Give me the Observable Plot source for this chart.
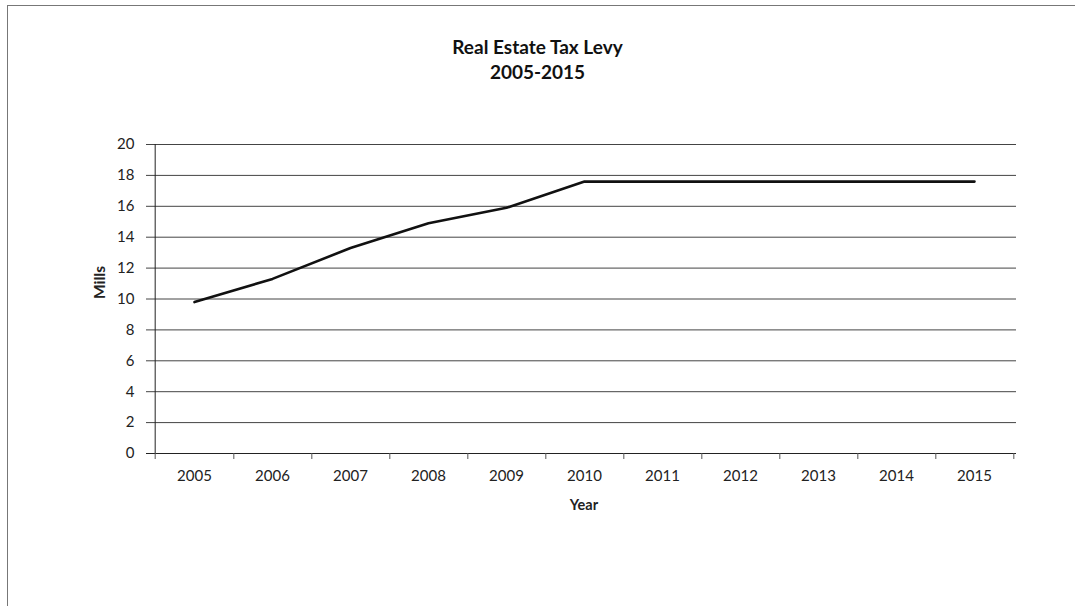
<!DOCTYPE html>
<html>
<head>
<meta charset="utf-8">
<script src="https://cdn.jsdelivr.net/npm/d3@7"></script>
<script src="https://cdn.jsdelivr.net/npm/@observablehq/plot@0.6"></script>
<style>
  html, body { margin: 0; padding: 0; background: #fff; }
  #wrap { position: relative; width: 1075px; height: 606px; overflow: hidden; font-family: Lato, "Open Sans", sans-serif; }
  #border { position: absolute; left: 7px; top: 5px; width: 1100px; height: 700px; border-left: 1.5px solid #777; border-top: 1.5px solid #777; }
  .title { position: absolute; left: 0; width: 1075px; text-align: center; font-weight: bold; font-size: 19px; color: #111; }
  #chart { position: absolute; left: 0; top: 0; }
</style>
</head>
<body>
<div id="wrap">
  <div id="border"></div>
  <div class="title" style="top:35px;">Real Estate Tax Levy</div>
  <div class="title" style="top:60px;">2005-2015</div>
  <div id="chart"></div>
</div>
<script>
const years = ["2005","2006","2007","2008","2009","2010","2011","2012","2013","2014","2015"];
const mills = [9.8, 11.3, 13.3, 14.9, 15.9, 17.6, 17.6, 17.6, 17.6, 17.6, 17.6];
const yTicks = [0, 2, 4, 6, 8, 10, 12, 14, 16, 18, 20];

const data = years.map((y, i) => ({year: y, value: mills[i]}));
const half = (1075 - 151 - 59) / years.length / 2;

const chart = Plot.plot({
  width: 1075,
  height: 606,
  marginLeft: 151,
  marginRight: 59,
  marginTop: 144,
  marginBottom: 153,
  style: {fontFamily: "Lato, 'Open Sans', sans-serif", fontSize: "15px", color: "#222", background: "transparent", overflow: "visible"},
  x: {type: "band", domain: years, padding: 0, label: null, axis: null},
  y: {domain: [0, 20], ticks: yTicks, label: null, axis: null},
  marks: [
    Plot.ruleY(yTicks.filter(d => d > 0), {stroke: "#444", strokeWidth: 1, insetLeft: -5}),
    Plot.ruleY([0], {stroke: "#222", strokeWidth: 1, insetLeft: -5}),
    Plot.ruleX([years[0]], {x: d => d, y1: 0, y2: 20, stroke: "#222", strokeWidth: 1, dx: -half}),
    Plot.ruleX(years, {x: d => d, y1: 0, y2: 0, dx: half, stroke: "#555", strokeWidth: 1, insetBottom: -6}),
    Plot.ruleX([years[0]], {x: d => d, y1: 0, y2: 0, dx: -half, stroke: "#555", strokeWidth: 1, insetBottom: -6}),
    Plot.axisY({ticks: yTicks, tickSize: 0, tickPadding: 17, fontSize: 15}),
    Plot.axisX({tickSize: 0, tickPadding: 17, fontSize: 15}),
    Plot.line(data, {x: "year", y: "value", stroke: "#111", strokeWidth: 2.6, curve: "linear"}),
    Plot.text(["Year"], {frameAnchor: "bottom", dy: 56, fontWeight: "bold", fontSize: 14.5}),
    Plot.text(["Mills"], {frameAnchor: "left", dx: -51, rotate: -90, fontWeight: "bold", fontSize: 15.5})
  ]
});
document.getElementById("chart").appendChild(chart);
</script>
</body>
</html>
